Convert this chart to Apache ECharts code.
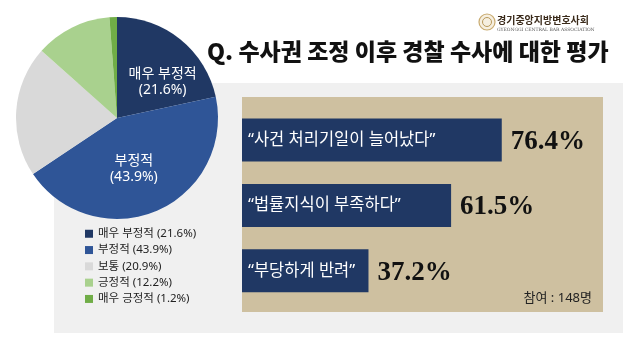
<!DOCTYPE html>
<html>
<head>
<meta charset="utf-8">
<script src="https://cdn.jsdelivr.net/npm/echarts@6/dist/echarts.min.js"></script>
<style>html,body{margin:0;padding:0;background:#fff;}#c{width:640px;height:348px;}</style>
</head>
<body>
<div id="c"></div>
<script>
// Pie data
const pieNames = ['매우 부정적', '부정적', '보통', '긍정적', '매우 긍정적'];
const pieValues = [21.6, 43.9, 20.9, 12.2, 1.2];
const pieColors = ['#203864', '#2f5597', '#d9d9d9', '#a9d18e', '#70ad47'];
// Bar data
const barCategories = ['“사건 처리기일이 늘어났다”', '“법률지식이 부족하다”', '“부당하게 반려”'];
const barValues = [76.4, 61.5, 37.2];
// Texts
const titleText = 'Q. 수사권 조정 이후 경찰 수사에 대한 평가';
const noteText = '참여 : 148명';
const logoKo = '경기중앙지방변호사회';
const logoEn = 'GYEONGGI CENTRAL BAR ASSOCIATION';

const KR = '"Noto Sans", "Noto Sans CJK KR", sans-serif';
const chart = echarts.init(document.getElementById('c'), null, {renderer: 'canvas'});

const pieData = pieNames.map((n, i) => ({
  name: n, value: pieValues[i],
  itemStyle: {color: pieColors[i]},
  label: {show: i < 2}
}));

chart.setOption({
  animation: false,
  backgroundColor: '#ffffff',
  graphic: [
    {type: 'rect', z: 0, shape: {x: 54, y: 83, width: 569, height: 250}, style: {fill: '#f0f0f0'}},
    {type: 'rect', z: 1, shape: {x: 242, y: 97, width: 361, height: 215}, style: {fill: '#cec0a0'}},
    {type: 'text', z: 5, style: {x: 207, y: 51, text: titleText, font: '900 23px "Noto Sans CJK KR"', fill: '#111', textVerticalAlign: 'middle'}},
    {type: 'text', z: 5, style: {x: 592, y: 298, text: noteText, font: '13px ' + KR, fill: '#222', textAlign: 'right', textVerticalAlign: 'middle'}},
    {type: 'circle', z: 5, shape: {cx: 487, cy: 22, r: 8}, style: {fill: '#f6efe0', stroke: '#c9ab70', lineWidth: 1.2}},
    {type: 'circle', z: 5, shape: {cx: 487, cy: 22, r: 4.5}, style: {fill: 'none', stroke: '#b99a5c', lineWidth: 1}},
    {type: 'text', z: 5, style: {x: 497, y: 20, text: logoKo, font: 'bold 10px "Noto Sans CJK KR"', fill: '#3a2a1a', textVerticalAlign: 'middle'}},
    {type: 'text', z: 5, style: {x: 497, y: 29.5, text: logoEn, font: '4.5px "DejaVu Serif"', fill: '#555', textVerticalAlign: 'middle'}}
  ],
  legend: {
    orient: 'vertical',
    left: 80, top: 223,
    itemWidth: 8, itemHeight: 8, itemGap: 4.8,
    icon: 'rect',
    data: pieNames,
    formatter: n => n + ' (' + pieValues[pieNames.indexOf(n)] + '%)',
    textStyle: {fontFamily: KR, fontSize: 11.5, color: '#222'},
    selectedMode: false
  },
  grid: {left: 242, right: 58, top: 107.3, bottom: 44.5},
  xAxis: {type: 'value', min: 0, max: 100, show: false},
  yAxis: {type: 'category', data: barCategories, inverse: true, show: false},
  series: [
    {
      type: 'pie', z: 3,
      center: [117, 118], radius: [0, 101],
      startAngle: 90, clockwise: true,
      data: pieData,
      label: {position: 'inside', formatter: '{b}\n({c}%)', color: '#fff', fontFamily: KR, fontSize: 14, lineHeight: 16},
      labelLayout: p => p.dataIndex === 0 ? {dx: 12, dy: 6} : (p.dataIndex === 1 ? {dx: -4, dy: 2} : {}),
      labelLine: {show: false},
      emphasis: {disabled: true}
    },
    {
      type: 'bar', z: 3,
      data: barValues,
      barWidth: 43,
      itemStyle: {color: '#203864'},
      label: {show: true, position: 'insideLeft', distance: 6, formatter: p => barCategories[p.dataIndex], color: '#fff', fontFamily: KR, fontSize: 16.5},
      emphasis: {disabled: true}
    },
    {
      type: 'bar', z: 3,
      data: barValues,
      barWidth: 43, barGap: '-100%',
      itemStyle: {color: 'rgba(0,0,0,0)'},
      label: {show: true, position: 'right', distance: 9, formatter: p => p.value + '%', color: '#111', fontFamily: '"Liberation Serif"', fontWeight: 'bold', fontSize: 27, offset: [0, 2]},
      emphasis: {disabled: true}
    }
  ]
});
</script>
</body>
</html>
